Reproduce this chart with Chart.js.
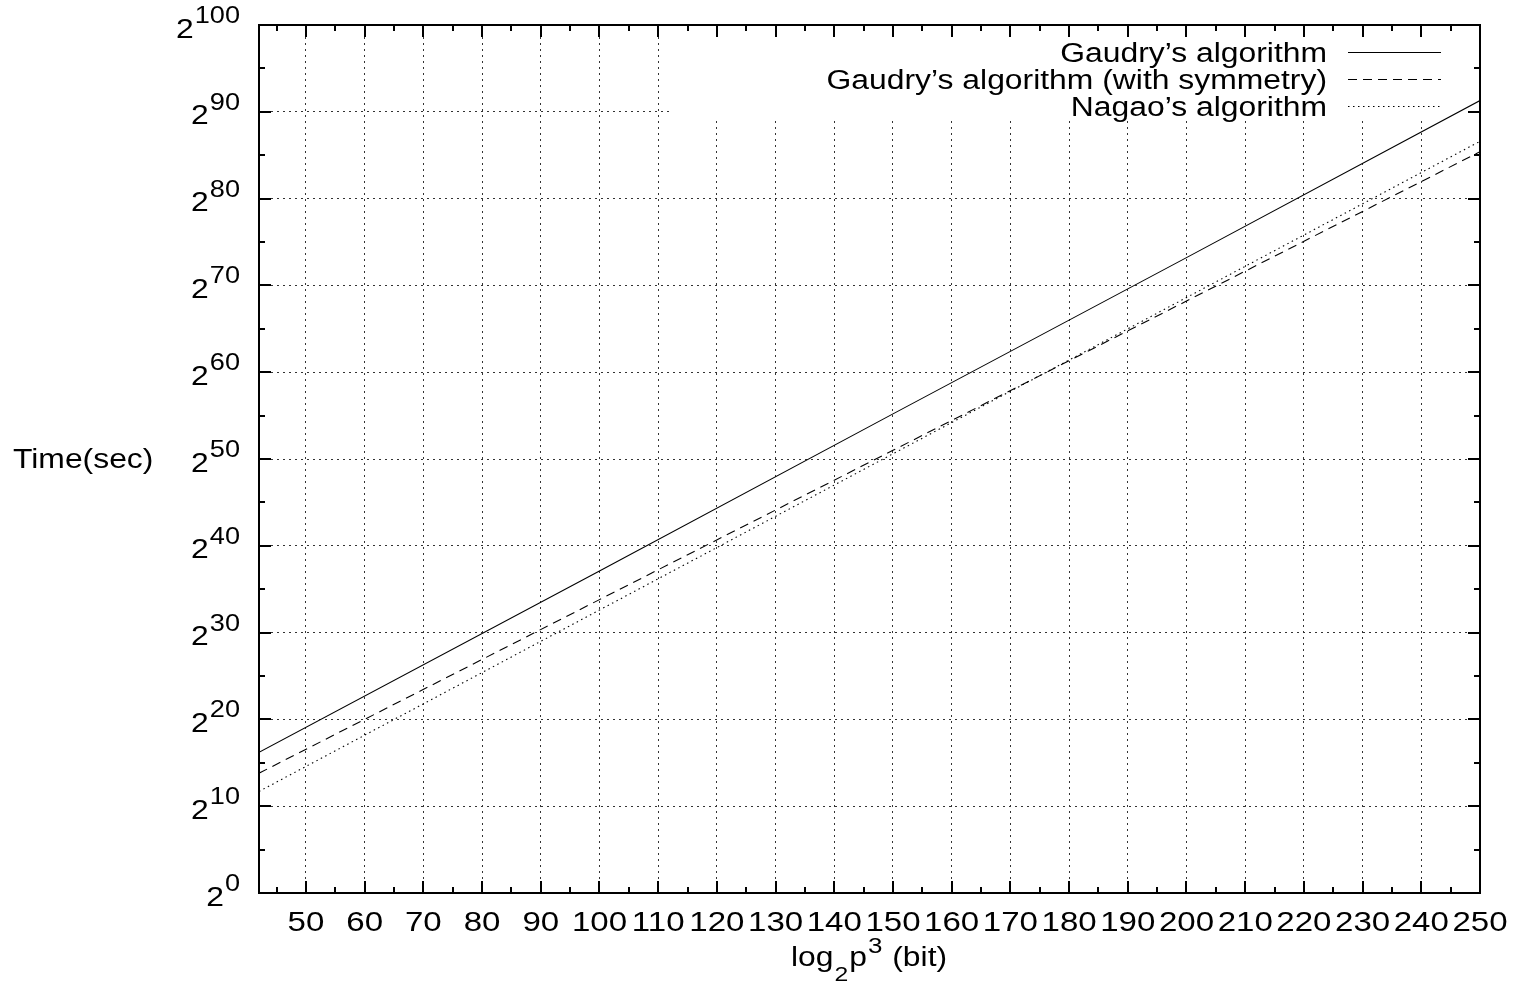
<!DOCTYPE html>
<html>
<head>
<meta charset="utf-8">
<script src="https://cdn.jsdelivr.net/npm/chart.js@4.4.1/dist/chart.umd.min.js"></script>
<style>
  body { margin: 0; background: #fff; }
  #wrap { width: 1517px; height: 985px; }
</style>
</head>
<body>
<div id="wrap"><canvas id="timeChart" width="1517" height="985"></canvas></div>
<script>
// values (y = exponent of 2)
const xBits = [42, 100, 150, 200, 250];
const gaudry = [16.2, 37.1, 55.2, 73.2, 91.3];
const gaudrySym = [13.8, 33.8, 51.0, 68.2, 85.4];
const nagao = [11.7, 32.6, 50.6, 68.6, 86.6];
const seriesNames = ['Gaudry\u2019s algorithm', 'Gaudry\u2019s algorithm (with symmetry)', 'Nagao\u2019s algorithm'];

const xTicks = [50, 60, 70, 80, 90, 100, 110, 120, 130, 140, 150, 160, 170, 180, 190, 200, 210, 220, 230, 240, 250];
const xMinor = [45, 55, 65, 75, 85, 95, 105, 115, 125, 135, 145, 155, 165, 175, 185, 195, 205, 215, 225, 235, 245];
const yTicks = [0, 10, 20, 30, 40, 50, 60, 70, 80, 90, 100];
const yMinor = [5, 15, 25, 35, 45, 55, 65, 75, 85, 95];

const FONT = '"Liberation Sans", Arial, Helvetica, sans-serif';
const SX = 1.18; // text in the original is a bit wide
const dashes = [[], [9, 6], [1.5, 3.5]];

function drawText(c, str, x, y, size, align) {
  c.save();
  c.font = size + 'px ' + FONT;
  c.textAlign = 'left';
  c.textBaseline = 'alphabetic';
  const w = c.measureText(str).width * SX;
  let left = x;
  if (align === 'right') left = x - w;
  if (align === 'center') left = x - w / 2;
  c.translate(left, y);
  c.scale(SX, 1);
  c.fillStyle = '#000';
  c.fillText(str, 0, 0);
  c.restore();
  return w;
}

function textWidth(c, str, size) {
  c.save();
  c.font = size + 'px ' + FONT;
  const w = c.measureText(str).width * SX;
  c.restore();
  return w;
}

const gnuplotLook = {
  id: 'gnuplotLook',
  beforeDatasetsDraw(chart) {
    const c = chart.ctx;
    const a = chart.chartArea;
    // key box clears the grid
    c.save();
    c.fillStyle = '#fff';
    c.fillRect(670, a.top, a.right - 670, 119 - a.top);
    c.restore();
  },
  afterDatasetsDraw(chart) {
    const c = chart.ctx;
    seriesNames.forEach((name, i) => {
      const y = 52 + i * 27.2;
      drawText(c, name, 1327, y + 9.5, 27, 'right');
      c.save();
      c.strokeStyle = '#000';
      c.lineWidth = 1;
      c.setLineDash(dashes[i]);
      c.beginPath();
      c.moveTo(1348, Math.round(y) + 0.5);
      c.lineTo(1441, Math.round(y) + 0.5);
      c.stroke();
      c.restore();
    });
  },
  afterDraw(chart) {
    const c = chart.ctx;
    const a = chart.chartArea;
    const xs = chart.scales.x;
    const ys = chart.scales.y;

    c.save();
    c.strokeStyle = '#000';
    c.lineWidth = 2;
    c.setLineDash([]);
    c.strokeRect(a.left, a.top, a.right - a.left, a.bottom - a.top);

    // inward ticks on all four sides
    c.beginPath();
    xTicks.concat(xMinor).forEach(v => {
      const len = xMinor.includes(v) ? 6 : 12;
      const px = Math.round(xs.getPixelForValue(v));
      c.moveTo(px, a.bottom); c.lineTo(px, a.bottom - len);
      c.moveTo(px, a.top); c.lineTo(px, a.top + len);
    });
    yTicks.concat(yMinor).forEach(v => {
      const len = yMinor.includes(v) ? 6 : 12;
      const py = Math.round(ys.getPixelForValue(v));
      c.moveTo(a.left, py); c.lineTo(a.left + len, py);
      c.moveTo(a.right, py); c.lineTo(a.right - len, py);
    });
    c.stroke();
    c.restore();

    // tick labels
    xTicks.forEach(v => {
      drawText(c, String(v), xs.getPixelForValue(v), 931, 28, 'center');
    });
    yTicks.forEach(v => {
      const py = ys.getPixelForValue(v);
      const w = drawText(c, String(v), 240, py - 2, 23, 'right');
      drawText(c, '2', 240 - w - 1, py + 12.5, 27, 'right');
    });

    // axis titles
    drawText(c, 'Time(sec)', 13, 468, 27, 'left');
    const parts = [['log', 27, 0], ['2', 21, 15], ['p', 27, 0], ['3', 22, -13], [' (bit)', 27, 0]];
    let total = 0;
    parts.forEach(p => { total += textWidth(c, p[0], p[1]) + 1; });
    let x = (a.left + a.right) / 2 - total / 2;
    parts.forEach(p => {
      x += drawText(c, p[0], x, 966 + p[2], p[1], 'left') + 1;
    });
  }
};

function makeSet(label, values, dash) {
  return {
    label: label,
    data: xBits.map((x, i) => ({ x: x, y: values[i] })),
    borderColor: '#000',
    borderWidth: 1.1,
    borderDash: dash,
    pointRadius: 0,
    fill: false,
    tension: 0
  };
}

const ctx = document.getElementById('timeChart').getContext('2d');

const timeChart = new Chart(ctx, {
  type: 'line',
  data: {
    datasets: [
      makeSet(seriesNames[0], gaudry, dashes[0]),
      makeSet(seriesNames[1], gaudrySym, dashes[1]),
      makeSet(seriesNames[2], nagao, dashes[2])
    ]
  },
  options: {
    responsive: false,
    animation: false,
    layout: { padding: { left: 259, top: 25, right: 37, bottom: 92 } },
    plugins: {
      legend: { display: false },
      tooltip: { enabled: false }
    },
    scales: {
      x: {
        type: 'linear',
        min: 42,
        max: 250,
        afterBuildTicks: s => { s.ticks = xTicks.map(v => ({ value: v })); },
        afterFit: s => { s.height = 0; },
        ticks: { display: false },
        border: { display: false, dash: [2, 4] },
        grid: {
          drawTicks: false,
          lineWidth: 1,
          color: c => (c.tick && c.tick.value === 250) ? 'rgba(0,0,0,0)' : '#333'
        }
      },
      y: {
        type: 'linear',
        min: 0,
        max: 100,
        afterBuildTicks: s => { s.ticks = yTicks.map(v => ({ value: v })); },
        afterFit: s => { s.width = 0; },
        ticks: { display: false },
        border: { display: false, dash: [2, 4] },
        grid: {
          drawTicks: false,
          lineWidth: 1,
          color: c => (c.tick && (c.tick.value === 0 || c.tick.value === 100)) ? 'rgba(0,0,0,0)' : '#333'
        }
      }
    }
  },
  plugins: [gnuplotLook]
});
</script>
</body>
</html>
